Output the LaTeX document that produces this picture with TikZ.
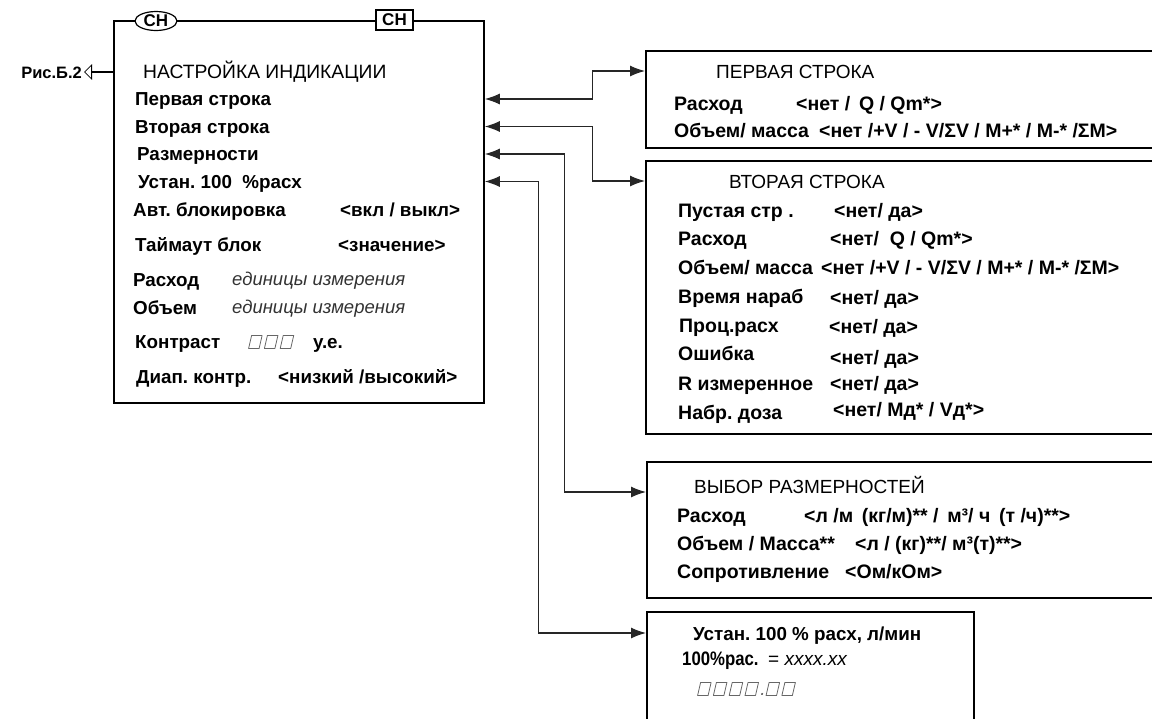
\documentclass[tikz,border=0pt]{standalone}
\usepackage{fontspec}
\setmainfont{Liberation Sans}
\newfontfamily\narrowfont[FakeStretch=0.86]{Liberation Sans}
\usetikzlibrary{arrows.meta,positioning,calc,shapes.geometric,shapes.arrows}
\frenchspacing
\newcommand{\mainbold}{\fontsize{18.8}{20}\selectfont\bfseries}
\newcommand{\mainreg}{\fontsize{19.3}{21}\selectfont}
\newcommand{\mainital}{\fontsize{18.5}{20}\selectfont\itshape\color{black!80}}
\newcommand{\boxbold}{\fontsize{19.5}{21}\selectfont\bfseries}
\newcommand{\boxreg}{\fontsize{19}{21}\selectfont}
\newcommand{\narrowbold}{\narrowfont\fontsize{19.5}{21}\selectfont\bfseries}
\newcommand{\lcdzero}{\tikz[baseline=0pt]\draw[line width=0.8pt, draw=black!60, line join=round] (0pt,0pt) -- (10.5pt,0pt) -- (13.5pt,13pt) -- (3pt,13pt) -- cycle;\hspace{1.5pt}}
\tikzset{
  menubox/.style={draw, line width=1.8pt, inner sep=0pt, anchor=north west},
  itemtext/.style={anchor=west, inner sep=0pt, text height=13.5pt, text depth=0pt, font=\mainbold},
  titletext/.style={anchor=west, inner sep=0pt, text height=13.5pt, text depth=0pt, font=\mainreg},
  unittext/.style={anchor=west, inner sep=0pt, text height=10pt, text depth=0pt, font=\mainital},
  boxtext/.style={anchor=west, inner sep=0pt, text height=14pt, text depth=0pt, font=\boxbold},
  boxtitle/.style={anchor=west, inner sep=0pt, text height=14pt, text depth=0pt, font=\boxreg},
  lcdtext/.style={anchor=west, inner sep=0pt, text height=13pt, text depth=0pt},
  keytag/.style={draw, line width=1.2pt, fill=white, inner sep=0.5pt, font=\fontsize{17}{18}\selectfont\bfseries},
  hollowarrow/.style={single arrow, draw, line width=0.8pt, fill=white, shape border rotate=180, minimum height=28pt, minimum width=14pt, single arrow head extend=4.5pt, inner sep=0pt},
  linkarrow/.style={{Latex[length=15pt,width=11pt]}-{Latex[length=15pt,width=11pt]}, line width=1.2pt, draw=black!85}
}
\begin{document}
\begin{tikzpicture}[x=1pt,y=-1pt]
\useasboundingbox (0,0) rectangle (1152,718);
\clip (0,0) rectangle (1152,718);
% main menu
\node[menubox, minimum width=370pt, minimum height=382pt] (setup) at (113,20) {};
\node[keytag, ellipse, minimum width=42pt, minimum height=19pt] (chround) at (156,21) {СН};
\node[keytag, minimum width=37pt, minimum height=20pt] (chsquare) at (394.5,20) {СН};
\node[anchor=east, inner sep=0pt, text height=12pt, text depth=0pt, font=\fontsize{16.5}{18}\selectfont\bfseries] (ristext) at (82,72) {Рис.Б.2};
\node[hollowarrow, anchor=tail] (risarrow) at (setup.west |- ristext) {};
\node[titletext] (setuptitle) at (143,72) {НАСТРОЙКА ИНДИКАЦИИ};
\node[itemtext] (first) at (135,99) {Первая строка};
\node[itemtext] (second) at (135,126.5) {Вторая строка};
\node[itemtext] (dims) at (137,154) {Размерности};
\node[itemtext] (flow) at (138,181.5) {Устан. 100 \ \%расх};
\node[itemtext] (lock) at (133,210) {Авт. блокировка};
\node[itemtext] (lockval) at (340,210) {<вкл / выкл>};
\node[itemtext] (timeout) at (135,245) {Таймаут блок};
\node[itemtext] (timeoutval) at (338,245) {<значение>};
\node[itemtext] (rate) at (133,280) {Расход};
\node[unittext] (rateunit) at (232,280) {единицы измерения};
\node[itemtext] (volume) at (133,308) {Объем};
\node[unittext] (volumeunit) at (232,308) {единицы измерения};
\node[itemtext] (contrast) at (135,342) {Контраст};
\node[lcdtext] (contrastlcd) at (248,342) {\lcdzero\lcdzero\lcdzero};
\node[itemtext] (contrastunit) at (313,342) {у.е.};
\node[itemtext] (range) at (136,377) {Диап. контр.};
\node[itemtext] (rangeval) at (278,377) {<низкий /высокий>};
% first line
\node[menubox, minimum width=520pt, minimum height=97pt] (firstbox) at (645,50) {};
\node[boxtitle] (firsttitle) at (716,71) {ПЕРВАЯ СТРОКА};
\node[boxtext] (firstrate) at (674,103) {Расход};
\node[boxtext] (firstrateval) at (796,103) {<нет / \,Q / Qm*>};
\node[boxtext] (firstvol) at (674,130) {Объем/ масса};
\node[boxtext] (firstvolval) at (819,130) {<нет /+V / - V/ΣV / M+* / M-* /ΣM>};
% second line
\node[menubox, minimum width=520pt, minimum height=273pt] (secondbox) at (645,160) {};
\node[boxtitle] (secondtitle) at (729,181) {ВТОРАЯ СТРОКА};
\node[boxtext] (blank) at (678,210) {Пустая стр .};
\node[boxtext] (blankval) at (834,210) {<нет/ да>};
\node[boxtext] (secrate) at (678,238) {Расход};
\node[boxtext] (secrateval) at (830,238) {<нет/ \ Q / Qm*>};
\node[boxtext] (secvol) at (678,267) {Объем/ масса};
\node[boxtext] (secvolval) at (821,267) {<нет /+V / - V/ΣV / M+* / M-* /ΣM>};
\node[boxtext] (runtime) at (678,296) {Время нараб};
\node[boxtext] (runtimeval) at (830,297) {<нет/ да>};
\node[boxtext] (percent) at (679,325) {Проц.расх};
\node[boxtext] (percentval) at (829,326) {<нет/ да>};
\node[boxtext] (error) at (678,353) {Ошибка};
\node[boxtext] (errorval) at (830,357) {<нет/ да>};
\node[boxtext] (resist) at (678,383) {R измеренное};
\node[boxtext] (resistval) at (830,383) {<нет/ да>};
\node[boxtext] (dose) at (678,412) {Набр. доза};
\node[boxtext] (doseval) at (833,409) {<нет/ Мд* / Vд*>};
% units
\node[menubox, minimum width=520pt, minimum height=136pt] (dimbox) at (646,461) {};
\node[boxtitle] (dimtitle) at (694,486) {ВЫБОР РАЗМЕРНОСТЕЙ};
\node[boxtext] (dimrate) at (677,515) {Расход};
\node[boxtext] (dimrateval) at (804,515) {<л /м \,(кг/м)** / \,м³/ ч \,(т /ч)**>};
\node[boxtext] (dimvol) at (677,543) {Объем / Масса**};
\node[boxtext] (dimvolval) at (855,543) {<л / (кг)**/ м³(т)**>};
\node[boxtext] (dimres) at (677,571) {Сопротивление};
\node[boxtext] (dimresval) at (845,571) {<Ом/кОм>};
% full scale flow
\node[menubox, minimum width=327pt, minimum height=120pt] (flowbox) at (646,611) {};
\node[boxtext, font=\mainbold] (flowtitle) at (693,633) {Устан. 100 \% расх, л/мин};
\node[boxtext, font=\narrowbold] (flowset) at (682,658) {100\%рас.};
\node[boxtitle] (flowsetval) at (768,658) {= \textit{xxxx.xx}};
\node[lcdtext, font=\boxreg\itshape\color{black!60}] (flowlcd) at (697,689) {\lcdzero\lcdzero\lcdzero\lcdzero.\lcdzero\lcdzero};
% links
\draw[linkarrow] (setup.east |- first) -- ++(108,0) |- (firstbox.west |- firsttitle);
\draw[linkarrow] (setup.east |- second) -- ++(108,0) |- (secondbox.west |- secondtitle);
\draw[linkarrow] (setup.east |- dims) -- ++(80,0) |- ($(dimbox.north west)+(0,31)$);
\draw[linkarrow] (setup.east |- flow) -- ++(54,0) |- (flowbox.west |- flowtitle);
\end{tikzpicture}
\end{document}
